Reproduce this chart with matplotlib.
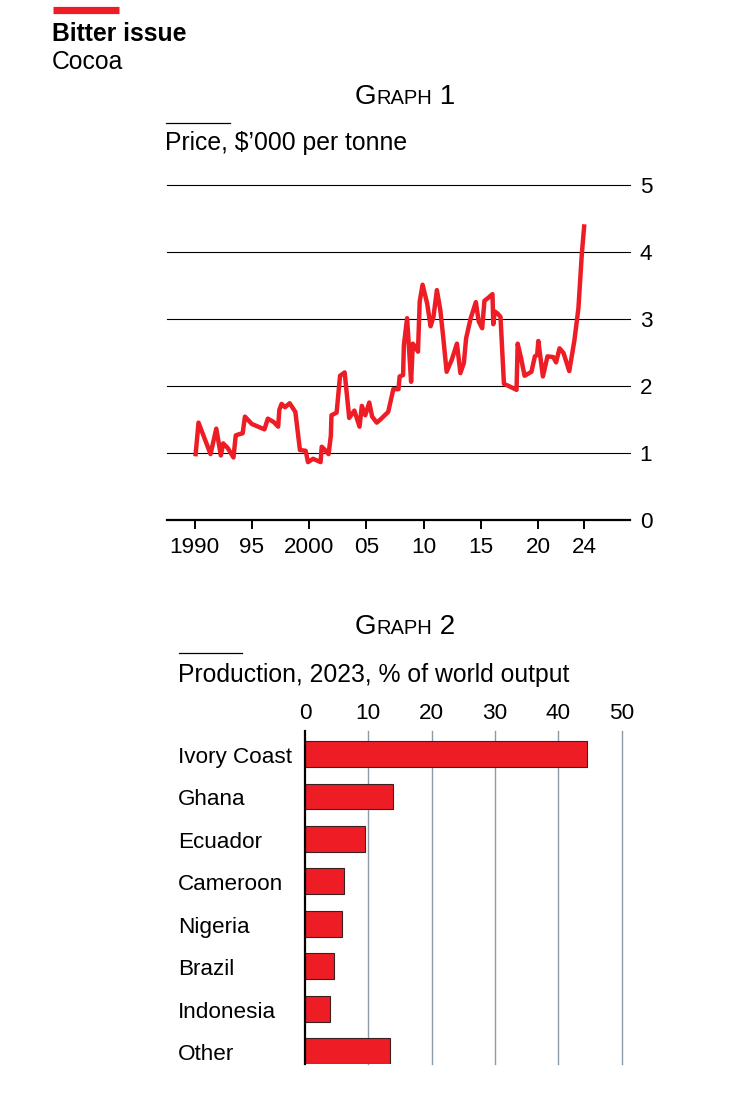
import numpy as np
import matplotlib.pyplot as plt
from matplotlib.transforms import blended_transform_factory

plt.rcParams['font.family'] = ['Liberation Sans', 'DejaVu Sans']

# cocoa price, $'000 per tonne
years = [1990.1, 1990.35, 1991.4, 1991.9, 1992.3, 1992.5, 1992.9, 1993.4, 1993.6, 1993.95,
         1994.2, 1994.4, 1995.0, 1995.55, 1996.1, 1996.4, 1996.9, 1997.3, 1997.4, 1997.6,
         1997.9, 1998.3, 1998.8, 1999.2, 1999.7, 1999.9, 2000.35, 2001.0, 2001.1, 2001.4,
         2001.7, 2001.9, 2001.95, 2002.4, 2002.7, 2003.1, 2003.5, 2003.95, 2004.4, 2004.6,
         2004.9, 2005.25, 2005.5, 2005.9, 2006.24, 2006.9, 2007.35, 2007.8, 2007.9, 2008.2,
         2008.27, 2008.55, 2008.9, 2009.05, 2009.28, 2009.5, 2009.65, 2009.9, 2010.3, 2010.6,
         2010.85, 2011.15, 2011.45, 2011.7, 2012.0, 2012.45, 2012.9, 2013.2, 2013.5, 2013.7,
         2014.1, 2014.55, 2014.8, 2015.1, 2015.3, 2015.6, 2016.0, 2016.07, 2016.2, 2016.45,
         2016.7, 2017.0, 2017.5, 2018.1, 2018.2, 2018.5, 2018.8, 2019.4, 2019.7, 2019.9,
         2020.0, 2020.4, 2020.8, 2021.3, 2021.55, 2021.85, 2022.2, 2022.7, 2023.15, 2023.5,
         2023.8, 2024.0]
price = [0.98, 1.45, 0.98, 1.36, 0.96, 1.14, 1.07, 0.93, 1.26, 1.28,
         1.29, 1.54, 1.43, 1.39, 1.35, 1.51, 1.46, 1.39, 1.64, 1.73,
         1.68, 1.74, 1.61, 1.04, 1.03, 0.86, 0.91, 0.86, 1.09, 1.04,
         0.98, 1.26, 1.56, 1.60, 2.15, 2.20, 1.52, 1.63, 1.39, 1.70,
         1.56, 1.75, 1.54, 1.45, 1.50, 1.61, 1.95, 1.95, 2.14, 2.16,
         2.61, 3.01, 2.06, 2.63, 2.58, 2.51, 3.26, 3.51, 3.23, 2.89,
         3.03, 3.43, 3.13, 2.73, 2.21, 2.39, 2.63, 2.19, 2.34, 2.71,
         3.01, 3.25, 2.96, 2.86, 3.27, 3.31, 3.37, 2.92, 3.11, 3.08,
         3.03, 2.03, 1.99, 1.94, 2.63, 2.41, 2.15, 2.21, 2.44, 2.46,
         2.67, 2.14, 2.44, 2.43, 2.35, 2.56, 2.49, 2.22, 2.68, 3.16,
         3.98, 4.38]
year_ticks = [1990, 1995, 2000, 2005, 2010, 2015, 2020, 2024]
year_labels = ['1990', '95', '2000', '05', '10', '15', '20', '24']

# production, 2023, % of world output
countries = ['Ivory Coast', 'Ghana', 'Ecuador', 'Cameroon', 'Nigeria', 'Brazil', 'Indonesia', 'Other']
share = [44.5, 13.9, 9.4, 6.2, 5.9, 4.6, 3.9, 13.4]

red = '#ee1c25'
W, H = 748, 1103

fig = plt.figure(figsize=(W / 100, H / 100), dpi=100)


def fx(px):
    return px / W


def fy(py):
    return 1 - py / H


def small_caps(x, y, word, num, big=20, small=14.5):
    # fake small caps: first letter big, rest small
    t1 = fig.text(fx(x), fy(y), word[0], fontsize=big, va='baseline', ha='left')
    t2 = plt.annotate(word[1:].upper(), xy=(1, 0), xycoords=t1, xytext=(0, 1.2),
                      textcoords='offset points', fontsize=small, va='bottom', ha='left')
    plt.annotate(' ' + num, xy=(1, 0), xycoords=t2, xytext=(0, -1.2),
                 textcoords='offset points', fontsize=big, va='bottom', ha='left')


# header
fig.add_artist(plt.Line2D([fx(53), fx(119)], [fy(9.5), fy(9.5)], color=red, lw=5.2,
                          solid_capstyle='butt'))
fig.text(fx(52), fy(41), 'Bitter issue', fontsize=17.8, fontweight='bold', va='baseline')
fig.text(fx(52), fy(69), 'Cocoa', fontsize=17.8, va='baseline')

# ---- graph 1 ----
ax1 = fig.add_axes([fx(167), fy(519.7), fx(630) - fx(167), fy(185) - fy(519.7)])
small_caps(355, 104, 'Graph', '1')
fig.add_artist(plt.Line2D([fx(166), fx(230)], [fy(123), fy(123)], color='black', lw=0.9))
fig.text(fx(165), fy(150), "Price, $\u2019000 per tonne", fontsize=17.8, va='baseline')

ax1.plot(years, price, color=red, lw=3.2, solid_joinstyle='round', zorder=3, clip_on=False)
ax1.set_xlim(1987.6, 2028.0)
ax1.set_ylim(0, 5)
for v in [1, 2, 3, 4, 5]:
    ax1.axhline(v, color='black', lw=0.8, zorder=1, clip_on=False)
for s in ['top', 'left', 'right']:
    ax1.spines[s].set_visible(False)
ax1.spines['bottom'].set_linewidth(1.6)
ax1.set_xticks(year_ticks)
ax1.set_xticklabels(year_labels)
ax1.yaxis.tick_right()
ax1.set_yticks([0, 1, 2, 3, 4, 5])
ax1.tick_params(axis='x', length=6.5, width=1.4, pad=6, labelsize=16.2)
ax1.tick_params(axis='y', length=0, pad=7, labelsize=16.2)
for lab in ax1.get_yticklabels():
    lab.set_horizontalalignment('left')

# ---- graph 2 ----
ax2 = fig.add_axes([fx(305), fy(1064), fx(621.7) - fx(305), fy(731) - fy(1064)])
small_caps(355, 634, 'Graph', '2')
fig.add_artist(plt.Line2D([fx(179), fx(242)], [fy(653), fy(653)], color='black', lw=0.9))
fig.text(fx(178), fy(682), 'Production, 2023, % of world output', fontsize=17.8, va='baseline')

pos = np.arange(len(countries))
ax2.barh(pos, share, height=0.61, color=red, edgecolor='#3a2020', linewidth=0.8, zorder=3)
ax2.set_xlim(0, 50)
ax2.set_ylim(7.305, -0.545)
for v in [10, 20, 30, 40, 50]:
    ax2.axvline(v, color='#8c9ba8', lw=1.0, zorder=1, clip_on=False)
for s in ['top', 'bottom', 'right']:
    ax2.spines[s].set_visible(False)
ax2.spines['left'].set_linewidth(1.6)
ax2.spines['left'].set_zorder(4)
ax2.xaxis.tick_top()
ax2.set_xticks([0, 10, 20, 30, 40, 50])
ax2.tick_params(axis='x', length=0, pad=5, labelsize=16.2)
ax2.set_yticks([])
trans = blended_transform_factory(fig.transFigure, ax2.transData)
for p, name in zip(pos, countries):
    ax2.text(fx(178), p + 0.21, name, transform=trans, fontsize=16.2, va='baseline', ha='left')

fig.savefig('out.png', dpi=100)
